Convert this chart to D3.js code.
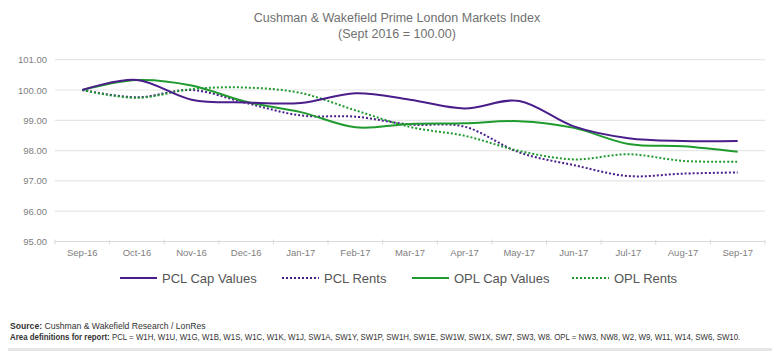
<!DOCTYPE html>
<html><head><meta charset="utf-8">
<script src="https://cdn.jsdelivr.net/npm/d3@7"></script>
<style>
html,body{margin:0;padding:0;background:#fff;}
svg{display:block;}
</style></head>
<body>
<svg id="chart" width="780" height="356"></svg>
<script>
const categories = ["Sep-16","Oct-16","Nov-16","Dec-16","Jan-17","Feb-17","Mar-17","Apr-17","May-17","Jun-17","Jul-17","Aug-17","Sep-17"];
const pclCap   = [100.00,100.33,99.68,99.59,99.57,99.89,99.68,99.39,99.64,98.80,98.41,98.32,98.32];
const pclRents = [100.00,99.76,100.00,99.57,99.16,99.12,98.86,98.79,97.94,97.52,97.16,97.24,97.28];
const oplCap   = [100.00,100.33,100.15,99.61,99.27,98.77,98.88,98.90,98.97,98.75,98.22,98.14,97.96];
const oplRents = [100.00,99.74,100.03,100.08,99.90,99.33,98.78,98.49,97.99,97.71,97.88,97.66,97.63];
const yTicks = [95,96,97,98,99,100,101];
const seriesNames = ["PCL Cap Values","PCL Rents","OPL Cap Values","OPL Rents"];

const PURPLE = "#4a1e8a", GREEN = "#1f9a2e";
const series = [
  {name: seriesNames[0], values: pclCap,   color: PURPLE, dash: null},
  {name: seriesNames[1], values: pclRents, color: PURPLE, dash: "2,2"},
  {name: seriesNames[2], values: oplCap,   color: GREEN,  dash: null},
  {name: seriesNames[3], values: oplRents, color: GREEN,  dash: "2,2"}
];

const svg = d3.select("#chart");
const mLeft = 55, mRight = 765, mTop = 59.7, mBottom = 241.5;

const x = d3.scaleBand().domain(categories).range([mLeft, mRight]);
const y = d3.scaleLinear().domain([95, 101]).range([mBottom, mTop]);

// title
svg.append("text").attr("x", 397).attr("y", 22).attr("text-anchor", "middle")
  .attr("font-family", "Liberation Sans, Arial, sans-serif").attr("font-size", 12.5)
  .attr("fill", "#707070").text("Cushman & Wakefield Prime London Markets Index");
svg.append("text").attr("x", 397).attr("y", 38).attr("text-anchor", "middle")
  .attr("font-family", "Liberation Sans, Arial, sans-serif").attr("font-size", 12.5)
  .attr("fill", "#707070").text("(Sept 2016 = 100.00)");

// gridlines
svg.append("g").selectAll("line").data(yTicks).join("line")
  .attr("x1", mLeft).attr("x2", mRight)
  .attr("y1", d => y(d)).attr("y2", d => y(d))
  .attr("stroke", d => d === 95 ? "#d9d9d9" : "#e6e6e6").attr("stroke-width", 1.2);

// y labels
const yAxis = svg.append("g").attr("transform", `translate(${mLeft},0)`)
  .call(d3.axisLeft(y).tickValues(yTicks).tickFormat(d3.format(".2f")).tickSize(0).tickPadding(8));
yAxis.select(".domain").remove();
yAxis.selectAll("text").attr("font-family", "Liberation Sans, Arial, sans-serif")
  .attr("font-size", 9.5).attr("fill", "#808080");

// x axis
const xAxis = svg.append("g").attr("transform", `translate(0,${mBottom})`)
  .call(d3.axisBottom(x).tickSize(0).tickPadding(8));
xAxis.select(".domain").remove();
xAxis.selectAll("text").attr("font-family", "Liberation Sans, Arial, sans-serif")
  .attr("font-size", 9.5).attr("fill", "#808080");
// boundary tick marks
const bounds = categories.map(c => x(c)).concat([mRight]);
svg.append("g").selectAll("line").data(bounds).join("line")
  .attr("x1", d => d).attr("x2", d => d)
  .attr("y1", mBottom - 2).attr("y2", mBottom + 3)
  .attr("stroke", "#d9d9d9").attr("stroke-width", 1);

// lines
const line = d3.line()
  .x((d, i) => x(categories[i]) + x.bandwidth() / 2)
  .y(d => y(d))
  .curve(d3.curveCatmullRom.alpha(0));

const order = [series[1], series[3], series[2], series[0]];
svg.append("g").selectAll("path").data(order).join("path")
  .attr("d", d => line(d.values))
  .attr("fill", "none")
  .attr("stroke", d => d.color)
  .attr("stroke-width", 2)
  .attr("stroke-dasharray", d => d.dash);

// legend
const legendX = [120, 282, 412, 572];
const legY = 278;
const lg = svg.append("g").selectAll("g").data(series).join("g")
  .attr("transform", (d, i) => `translate(${legendX[i]},${legY})`);
lg.append("line").attr("x1", 0).attr("x2", 37).attr("y1", 0).attr("y2", 0)
  .attr("stroke", d => d.color).attr("stroke-width", 2)
  .attr("stroke-dasharray", d => d.dash);
lg.append("text").attr("x", 42).attr("y", 4.5)
  .attr("font-family", "Liberation Sans, Arial, sans-serif").attr("font-size", 13)
  .attr("fill", "#555").text(d => d.name);

// footnotes (condensed horizontally to fit like the reference)
function footLine(yPos, boldPart, normalPart, targetWidth) {
  const g = svg.append("g");
  const t = g.append("text").attr("x", 0).attr("y", 0)
    .attr("font-family", "Liberation Sans, Arial, sans-serif")
    .attr("font-size", 8.5).attr("fill", "#333");
  t.append("tspan").attr("font-weight", "bold").text(boldPart);
  t.append("tspan").text(normalPart);
  const w = t.node().getComputedTextLength();
  const s = targetWidth / w;
  g.attr("transform", `translate(10,${yPos}) scale(${s},1)`);
}
footLine(329, "Source: ", "Cushman & Wakefield Research / LonRes", 196);
footLine(340, "Area definitions for report: ", "PCL = W1H, W1U, W1G, W1B, W1S, W1C, W1K, W1J, SW1A, SW1Y, SW1P, SW1H, SW1E, SW1W, SW1X, SW7, SW3, W8.  OPL = NW3, NW8, W2, W9, W11, W14, SW6, SW10.", 731);

// bottom rule
svg.append("line").attr("x1", 8).attr("x2", 772).attr("y1", 349.5).attr("y2", 349.5)
  .attr("stroke", "#e6e6e6").attr("stroke-width", 3);
</script>
</body></html>
